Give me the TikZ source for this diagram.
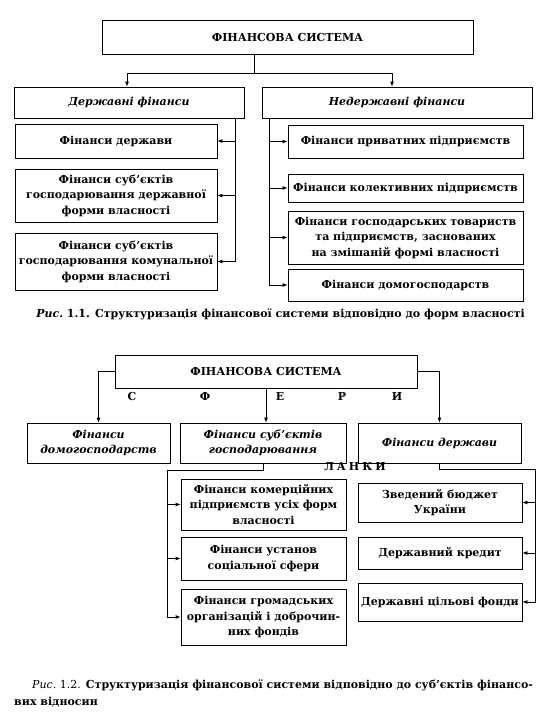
\documentclass[tikz,border=0pt]{standalone}
\usepackage{fontspec}
\setmainfont{DejaVu Serif}
\usetikzlibrary{arrows.meta,calc}
\begin{document}
\begin{tikzpicture}[x=1pt,y=-1pt,
  every node/.style={font=\bfseries\fontsize{11}{15.5}\selectfont},
  box/.style={draw,line width=0.8pt,align=center,inner sep=1pt},
  ln/.style={line width=0.8pt},
  arr/.style={line width=0.8pt,-{Latex[length=5pt,width=4pt]}}]
\useasboundingbox (0,0) rectangle (560,724);
% ---------- Diagram 1 ----------
\node[box,minimum width=371pt,minimum height=34pt] (top1) at (287.5,37) {ФІНАНСОВА СИСТЕМА};
\node[box,minimum width=230pt,minimum height=31pt] (d) at (129,102.5) {\itshape Державні фінанси};
\node[box,minimum width=270pt,minimum height=31pt] (n) at (397,102.5) {\itshape Недержавні фінанси};
\node[box,minimum width=202pt,minimum height=34pt] (L1) at (116,141) {Фінанси держави};
\node[box,minimum width=202pt,minimum height=53pt] (L2) at (116,195.5) {Фінанси суб'єктів\\господарювання державної\\форми власності};
\node[box,minimum width=202pt,minimum height=57pt] (L3) at (116,261.5) {Фінанси суб'єктів\\господарювання комунальної\\форми власності};
\node[box,minimum width=235pt,minimum height=33pt] (R1) at (405.5,141.5) {Фінанси приватних підприємств};
\node[box,minimum width=235pt,minimum height=28pt] (R2) at (405.5,188) {Фінанси колективних підприємств};
\node[box,minimum width=235pt,minimum height=53pt] (R3) at (405.5,237.5) {Фінанси господарських товариств\\та підприємств, заснованих\\на змішаній формі власності};
\node[box,minimum width=235pt,minimum height=32pt] (R4) at (405.5,285) {Фінанси домогосподарств};
\coordinate (j1) at (254,73);
\draw[ln] (j1 |- top1.south) -- (j1);
\draw[arr] (j1) -| ([xshift=-2pt]d.north);
\draw[arr] (j1) -| ([xshift=-5pt]n.north);
\coordinate (lt) at ([xshift=-9pt]d.south east);
\draw[arr] (lt) |- (L3.east);
\draw[arr] (lt |- L1.east) -- (L1.east);
\draw[arr] (lt |- L2.east) -- (L2.east);
\coordinate (rt) at ([xshift=8pt]n.south west);
\draw[arr] (rt) |- (R4.west);
\draw[arr] (rt |- R1.west) -- (R1.west);
\draw[arr] (rt |- R2.west) -- (R2.west);
\draw[arr] (rt |- R3.west) -- (R3.west);
\node (cap1) at (280.5,314) {\itshape Рис.\upshape\ 1.1. Структуризація фінансової системи відповідно до форм власності};
% ---------- Diagram 2 ----------
\node[box,minimum width=302pt,minimum height=33pt] (top2) at (266,371.5) {ФІНАНСОВА СИСТЕМА};
\node[box,minimum width=143pt,minimum height=40pt] (A) at (98.5,443) {\itshape Фінанси\\\itshape домогосподарств};
\node[box,minimum width=166pt,minimum height=40pt] (B) at (263,443) {\itshape Фінанси суб'єктів\\\itshape господарювання};
\node[box,minimum width=163pt,minimum height=40pt] (C) at (439.5,443) {\itshape Фінанси держави};
\node (s1) at (132,396) {С};
\node (s2) at (205,396) {Ф};
\node (s3) at (280,396) {Е};
\node (s4) at (342,396) {Р};
\node (s5) at (397,396) {И};
\draw[arr] (top2.west) -| (A.north);
\draw[arr] (top2.east) -| (C.north);
\draw[arr] (top2.south) -- (top2.south |- B.north);
\node (lanky) at (355,467) {Л\hspace{3pt}А\hspace{3pt}Н\hspace{3pt}К\hspace{3pt}И};
\node[box,minimum width=165pt,minimum height=51pt] (B1) at (263.5,504.5) {Фінанси комерційних\\підприємств усіх форм\\власності};
\node[box,minimum width=165pt,minimum height=43pt] (B2) at (263.5,558.5) {Фінанси установ\\соціальної сфери};
\node[box,minimum width=165pt,minimum height=56pt] (B3) at (263.5,617) {Фінанси громадських\\організацій і доброчин-\\них фондів};
\node[box,minimum width=164pt,minimum height=39pt] (C1) at (440,502.5) {Зведений бюджет\\України};
\node[box,minimum width=164pt,minimum height=32pt] (C2) at (440,553) {Державний кредит};
\node[box,minimum width=164pt,minimum height=38pt] (C3) at (440,602) {Державні цільові фонди};
\coordinate (bt) at (167,470);
\draw[arr] (B.south) |- (bt) |- (B3.west);
\draw[arr] (bt |- B1.west) -- (B1.west);
\draw[arr] (bt |- B2.west) -- (B2.west);
\coordinate (ct) at (535,469);
\draw[arr] (C.south) |- (ct) |- (C3.east);
\draw[arr] (ct |- C1.east) -- (C1.east);
\draw[arr] (ct |- C2.east) -- (C2.east);
\node[anchor=north west,align=left,inner sep=0pt,font=\bfseries\fontsize{11}{17}\selectfont] (cap2) at (14,680) {\hspace*{18pt}{\mdseries\itshape Рис.\upshape\ 1.2.} Структуризація фінансової системи відповідно до суб'єктів фінансо-\\вих відносин};
\end{tikzpicture}
\end{document}
